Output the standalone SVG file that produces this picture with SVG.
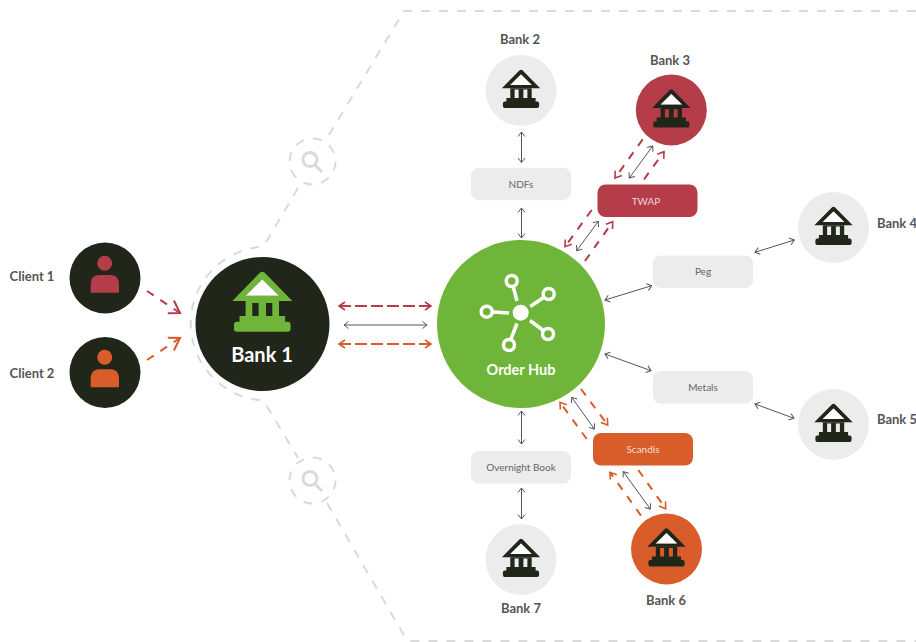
<svg xmlns="http://www.w3.org/2000/svg" width="916" height="642" viewBox="0 0 916 642">
<style>
text{font-family:"Lato","Liberation Sans",sans-serif;text-anchor:middle}
.lbl{font-size:13px;font-weight:700;fill:#555}
.sm{font-size:10px;fill:#666}
.smw{font-size:10px;fill:#fff;fill-opacity:.8}
.g{fill:#ececec}
.dk{fill:#20261a}
.red{fill:#b53c49}
.or{fill:#d85d2a}
.bd{fill:none;stroke:#dadada;stroke-width:2;stroke-dasharray:9 9}
.gl{fill:none;stroke:#555;stroke-width:1;marker-start:url(#mg);marker-end:url(#mg)}
.rd{fill:none;stroke:#b53c49;stroke-width:2;stroke-dasharray:8 8;marker-end:url(#mr)}
.od{fill:none;stroke:#d85d2a;stroke-width:2;stroke-dasharray:8 8;marker-end:url(#mo)}
.ms{fill:none;stroke:#dadada;stroke-width:3}
.hub{fill:none;stroke:#fff;stroke-width:3.5}
</style>
<defs>
<marker id="mg" markerUnits="userSpaceOnUse" markerWidth="10" markerHeight="10" refX="6" refY="5" orient="auto-start-reverse"><path d="M1.5 1.5L6 5L1.5 8.5" fill="none" stroke="#555" stroke-width="1"/></marker>
<marker id="mr" markerUnits="userSpaceOnUse" markerWidth="12" markerHeight="12" refX="9" refY="6" orient="auto-start-reverse"><path d="M3 2L9 6L3 10" fill="none" stroke="#b53c49" stroke-width="1.6"/></marker>
<marker id="mo" markerUnits="userSpaceOnUse" markerWidth="12" markerHeight="12" refX="9" refY="6" orient="auto-start-reverse"><path d="M3 2L9 6L3 10" fill="none" stroke="#d85d2a" stroke-width="1.6"/></marker>
<marker id="mrb" markerUnits="userSpaceOnUse" markerWidth="20" markerHeight="20" refX="16" refY="10" orient="auto"><path d="M4 3L16 10L6 17" fill="none" stroke="#b53c49" stroke-width="2"/></marker>
<marker id="mob" markerUnits="userSpaceOnUse" markerWidth="20" markerHeight="20" refX="16" refY="10" orient="auto"><path d="M6 3L16 10L4 17" fill="none" stroke="#d85d2a" stroke-width="2"/></marker>
<g id="bank">
<path fill="currentColor" d="M-2.2-27.4Q0-29 2.2-27.4L30 1H-30ZM0-20.7L-16.7-4.3H16.7Z" fill-rule="evenodd"/>
<path fill="#fff" d="M0-20.7L-16.7-4.3H16.7Z"/>
<path fill="currentColor" fill-rule="evenodd" d="M-16.7 1H16.7V16H22.8V21.7H25.3Q28.3 21.700 28.300 24.700V28.700Q28.300 31.700 25.300 31.700H-25.300Q-28.300 31.700-28.300 28.700V24.700Q-28.300 21.700-25.300 21.700H-22.800V16H-16.700ZM-10 3V16H-3.700V3ZM3.700 3V16H10V3Z"/>
</g>
</defs>

<g id="boundary">
<path class="bd" d="M916 11H404L327 138"/>
<path class="bd" d="M298 188L265 244Q263 247 259 247A77 77 0 0 0 259 400Q263 400 265 403L298 458"/>
<path class="bd" d="M327 503L405 637Q407 641 411 641H916"/>
</g>
<g id="search-top">
<circle class="bd" cx="312.500" cy="161.500" r="23" stroke-dasharray="9 6"/>
<circle class="ms" cx="310" cy="159.500" r="7"/>
<path class="ms" d="M315 165L322 172" stroke-width="4"/>
</g>
<g id="search-bottom">
<circle class="bd" cx="312.500" cy="480.500" r="23" stroke-dasharray="9 6"/>
<circle class="ms" cx="310" cy="478.500" r="7"/>
<path class="ms" d="M315 484L322 491" stroke-width="4"/>
</g>

<g id="connectors">
<path d="M147 291L180 313" fill="none" stroke="#b53c49" stroke-width="2" stroke-dasharray="8 8" marker-end="url(#mrb)"/>
<path d="M147 360L180 338" fill="none" stroke="#d85d2a" stroke-width="2" stroke-dasharray="8 8" marker-end="url(#mob)"/>
<path class="rd" d="M431 306H339"/>
<path class="rd" d="M339 306H431"/>
<path class="gl" d="M344 325H427"/>
<path class="od" d="M431 344H339"/>
<path class="od" d="M339 344H431"/>
<path class="gl" d="M521.500 132V162.500"/>
<path class="gl" d="M521.500 208V238"/>
<path class="gl" d="M521.500 411V444"/>
<path class="gl" d="M521.500 488V519"/>
<path class="gl" d="M652.700 146L629.300 178"/>
<path class="rd" d="M642.700 139.300L615 178"/>
<path class="rd" d="M644 179.300L664 151.700"/>
<path class="gl" d="M598.300 221.300L576.700 250.700"/>
<path class="rd" d="M591.700 210L565 246.700"/>
<path class="rd" d="M585 261L612.700 221.700"/>
<path class="gl" d="M605 300L651.700 285.700"/>
<path class="gl" d="M755 252.300L794.300 240"/>
<path class="gl" d="M605 354L651 370.700"/>
<path class="gl" d="M755 404L794 418.300"/>
<path class="gl" d="M571.700 397.300L594.300 429"/>
<path class="od" d="M581 389L607.700 425"/>
<path class="od" d="M586.700 439L560 402.300"/>
<path class="gl" d="M623.300 471.700L650.300 509"/>
<path class="od" d="M638.300 470L665.700 508.700"/>
<path class="od" d="M641 515.700L610 472.300"/>
</g>

<g id="client-1">
<circle class="dk" cx="105" cy="278" r="35.500"/>
<circle class="red" cx="104.700" cy="263.300" r="7.500"/>
<path class="red" d="M90.700 292.700V284Q90.700 275 99.700 275H110Q119 275 119 284V292.700Z"/>
<text class="lbl" x="32" y="281">Client 1</text>
</g>
<g id="client-2">
<circle class="dk" cx="105" cy="372.500" r="35.500"/>
<circle class="or" cx="104.700" cy="357.300" r="7.500"/>
<path class="or" d="M90.700 387.300V378.300Q90.700 369.300 99.700 369.300H110Q119 369.300 119 378.300V387.300Z"/>
<text class="lbl" x="32" y="378">Client 2</text>
</g>
<g id="bank-1">
<circle class="dk" cx="262.500" cy="324" r="67"/>
<use href="#bank" x="262.300" y="300" color="#6eb539"/>
<text x="262" y="362" font-size="20" font-weight="700" fill="#fff">Bank 1</text>
</g>
<g id="order-hub">
<circle cx="521" cy="324" r="84" fill="#6eb539"/>
<circle cx="520.700" cy="312.700" r="8" fill="#fff"/>
<circle class="hub" cx="511.700" cy="281" r="5.500"/>
<circle class="hub" cx="548.700" cy="294" r="5.500"/>
<circle class="hub" cx="548" cy="334" r="5.500"/>
<circle class="hub" cx="509" cy="345" r="5.500"/>
<circle class="hub" cx="486.700" cy="311.700" r="5.500"/>
<path class="hub" d="M513.300 287L517 301M543.500 297.500L530.300 306.500M542.700 330L530 320.500M511 339L517 323.500M492.500 312L509 313"/>
<text x="521" y="375" font-size="14.500" font-weight="700" fill="#fff">Order Hub</text>
</g>
<g id="bank-2">
<circle class="g" cx="521" cy="90.500" r="35.500"/>
<use href="#bank" transform="translate(521 87.700) scale(.64)" color="#20261a"/>
<text class="lbl" x="520" y="44">Bank 2</text>
</g>
<g id="bank-3">
<circle class="red" cx="671.300" cy="110" r="35.500"/>
<use href="#bank" transform="translate(671.300 107.300) scale(.64)" color="#20261a"/>
<text class="lbl" x="670" y="65">Bank 3</text>
</g>
<g id="bank-4">
<circle class="g" cx="833.500" cy="227.500" r="35.500"/>
<use href="#bank" transform="translate(833.500 224.700) scale(.64)" color="#20261a"/>
<text class="lbl" x="897" y="228">Bank 4</text>
</g>
<g id="bank-5">
<circle class="g" cx="833.500" cy="424.500" r="35.500"/>
<use href="#bank" transform="translate(833.500 421.700) scale(.64)" color="#20261a"/>
<text class="lbl" x="897" y="424">Bank 5</text>
</g>
<g id="bank-6">
<circle class="or" cx="666.500" cy="549" r="35.500"/>
<use href="#bank" transform="translate(666.500 546.200) scale(.64)" color="#20261a"/>
<text class="lbl" x="666" y="605">Bank 6</text>
</g>
<g id="bank-7">
<circle class="g" cx="521" cy="559.500" r="35.500"/>
<use href="#bank" transform="translate(521 556.700) scale(.64)" color="#20261a"/>
<text class="lbl" x="521" y="613">Bank 7</text>
</g>
<g id="ndfs"><rect class="g" x="471" y="167.700" width="100" height="32.500" rx="8"/><text class="sm" x="521" y="187.500">NDFs</text></g>
<g id="twap"><rect class="red" x="597.500" y="184.500" width="100" height="32.500" rx="8"/><text class="smw" x="646" y="204.500">TWAP</text></g>
<g id="peg"><rect class="g" x="653" y="255.500" width="100" height="32.500" rx="8"/><text class="sm" x="703" y="274.500">Peg</text></g>
<g id="metals"><rect class="g" x="653" y="371" width="100" height="32.500" rx="8"/><text class="sm" x="703" y="390.500">Metals</text></g>
<g id="scandis"><rect class="or" x="593" y="433" width="100" height="32.500" rx="8"/><text class="smw" x="643" y="453">Scandis</text></g>
<g id="overnight-book"><rect class="g" x="471" y="451" width="100" height="32.500" rx="8"/><text class="sm" x="521" y="471">Overnight Book</text></g>
</svg>
